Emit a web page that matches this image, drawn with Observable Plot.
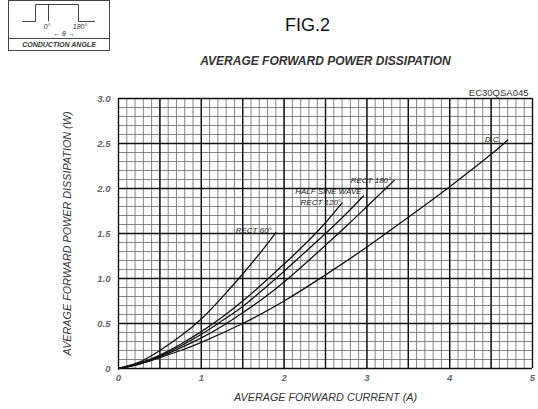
<!DOCTYPE html>
<html>
<head>
<meta charset="utf-8">
<script src="https://cdn.jsdelivr.net/npm/d3@7"></script>
<script src="https://cdn.jsdelivr.net/npm/@observablehq/plot@0.6"></script>
<style>
  html, body { margin: 0; padding: 0; background: #fff; }
  #wrap { position: relative; width: 538px; height: 409px; font-family: "Liberation Sans", Arial, sans-serif; }
  #inset { position: absolute; left: 0; top: 0; }
</style>
</head>
<body>
<div id="wrap">
  <div id="chart"></div>
  <svg id="inset" width="115" height="55" font-family="Liberation Sans, Arial, sans-serif">
    <rect x="8.5" y="0.5" width="101" height="50" fill="none" stroke="#444" stroke-width="1"/>
    <line x1="8.5" y1="38.5" x2="109.5" y2="38.5" stroke="#444" stroke-width="1"/>
    <path d="M22.5,21.5 H35.5 V4.5 H78.5 V21.5 H95" fill="none" stroke="#444" stroke-width="1"/>
    <line x1="48.5" y1="4.5" x2="48.5" y2="21.5" stroke="#444" stroke-width="1"/>
    <text x="47" y="29" font-size="7" font-style="italic" text-anchor="middle" fill="#333">0°</text>
    <text x="80" y="29" font-size="7" font-style="italic" text-anchor="middle" fill="#333">180°</text>
    <text x="64" y="36" font-size="7" font-style="italic" text-anchor="middle" fill="#333">← θ →</text>
    <text x="59" y="47" font-size="7" font-style="italic" font-weight="bold" text-anchor="middle" fill="#333">CONDUCTION ANGLE</text>
  </svg>
</div>
<script>
// ---- data ----
const rect60X  = [0, 0.25, 0.5, 0.75, 1.0, 1.25, 1.5, 1.75, 1.9];
const rect60Y  = [0, 0.07, 0.2, 0.36, 0.55, 0.79, 1.05, 1.33, 1.51];

const rect120X = [0, 0.25, 0.5, 0.75, 1.0, 1.25, 1.5, 1.75, 2.0, 2.25, 2.5, 2.7];
const rect120Y = [0, 0.06, 0.15, 0.27, 0.41, 0.57, 0.75, 0.95, 1.16, 1.38, 1.62, 1.84];

const halfSineX = [0, 0.25, 0.5, 0.75, 1.0, 1.25, 1.5, 1.75, 2.0, 2.25, 2.5, 2.75, 2.96];
const halfSineY = [0, 0.05, 0.14, 0.25, 0.38, 0.53, 0.69, 0.88, 1.08, 1.29, 1.5, 1.72, 1.92];

const rect180X = [0, 0.25, 0.5, 0.75, 1.0, 1.25, 1.5, 1.75, 2.0, 2.25, 2.5, 2.75, 3.0, 3.33];
const rect180Y = [0, 0.05, 0.13, 0.23, 0.34, 0.47, 0.62, 0.78, 0.96, 1.16, 1.37, 1.58, 1.8, 2.09];

const dcX = [0, 0.25, 0.5, 0.75, 1.0, 1.5, 2.0, 2.5, 3.0, 3.5, 4.0, 4.5, 4.7];
const dcY = [0, 0.05, 0.12, 0.2, 0.29, 0.5, 0.75, 1.04, 1.35, 1.68, 2.02, 2.38, 2.54];

const seriesNames = ["RECT 60°", "RECT 120°", "HALF SINE WAVE", "RECT 180°", "D.C."];

const xTickValues = [0, 1, 2, 3, 4, 5];
const xTickLabels = ["0", "1", "2", "3", "4", "5"];
const yTickValues = [0, 0.5, 1.0, 1.5, 2.0, 2.5, 3.0];
const yTickLabels = ["0", "0.5", "1.0", "1.5", "2.0", "2.5", "3.0"];

const xMajorGrid = [0, 0.5, 1, 1.5, 2, 2.5, 3, 3.5, 4, 4.5, 5];
const yMajorGrid = [0, 0.5, 1, 1.5, 2, 2.5, 3];
const xMinorGrid = d3.range(0, 51).map(i => i / 10);
const yMinorGrid = d3.range(0, 31).map(i => i / 10);

// ---- build tables ----
const xs = [rect60X, rect120X, halfSineX, rect180X, dcX];
const ys = [rect60Y, rect120Y, halfSineY, rect180Y, dcY];
const curves = seriesNames.flatMap((name, k) =>
  xs[k].map((x, i) => ({ series: name, x, y: ys[k][i] })));
const ends = seriesNames.map((name, k) => ({
  series: name, x: xs[k][xs[k].length - 1], y: ys[k][ys[k].length - 1]
}));
// label nudges (pixels) relative to each curve end
const labelDx = { "RECT 60°": -4, "RECT 120°": -1, "HALF SINE WAVE": -2, "RECT 180°": -3, "D.C.": -7 };
const labelDy = { "RECT 60°": -2, "RECT 120°": 0, "HALF SINE WAVE": -4, "RECT 180°": 0, "D.C.": 0 };

const ital = { fontStyle: "italic", fontFamily: "Liberation Sans, Arial, sans-serif" };

const chart = Plot.plot({
  width: 538,
  height: 409,
  marginLeft: 118,
  marginRight: 6,
  marginTop: 98,
  marginBottom: 41,
  style: { fontFamily: "Liberation Sans, Arial, sans-serif", background: "#fff" },
  x: { domain: [0, 5], axis: null },
  y: { domain: [0, 3], axis: null },
  marks: [
    Plot.ruleX(xMinorGrid, { x: d => d, stroke: "#666", strokeWidth: 0.8 }),
    Plot.ruleY(yMinorGrid, { y: d => d, stroke: "#666", strokeWidth: 0.8 }),
    Plot.ruleX(xMajorGrid, { x: d => d, stroke: "#111", strokeWidth: 1.4 }),
    Plot.ruleY(yMajorGrid, { y: d => d, stroke: "#111", strokeWidth: 1.4 }),
    Plot.line(curves, { x: "x", y: "y", z: "series", stroke: "#111", strokeWidth: 1.3, curve: "natural" }),
    ...ends.map(e => Plot.text([e], {
      x: "x", y: "y", text: "series", textAnchor: "end",
      dx: labelDx[e.series], dy: labelDy[e.series],
      fontSize: 8, fill: "#222", ...ital
    })),
    // tick labels
    Plot.text(xTickValues, { x: d => d, text: (d, i) => xTickLabels[i], frameAnchor: "bottom", dy: 12,
      fontSize: 9.5, fontWeight: "bold", fill: "#666", ...ital }),
    Plot.text(yTickValues, { y: d => d, text: (d, i) => yTickLabels[i], frameAnchor: "left", dx: -8,
      textAnchor: "end", fontSize: 9.5, fontWeight: "bold", fill: "#666", ...ital }),
    // axis titles
    Plot.text(["AVERAGE FORWARD CURRENT (A)"], { text: d => d, frameAnchor: "bottom", dy: 32,
      textAnchor: "middle", fontSize: 10.8, fill: "#333", ...ital }),
    Plot.text(["AVERAGE FORWARD POWER DISSIPATION (W)"], { text: d => d, frameAnchor: "left", dx: -51,
      textAnchor: "middle", rotate: -90, fontSize: 10.8, fill: "#333", ...ital }),
    // titles
    Plot.text(["FIG.2"], { text: d => d, frameAnchor: "top", dx: -18, dy: -80,
      textAnchor: "middle", fontSize: 18, fill: "#111", fontFamily: "Liberation Sans, Arial, sans-serif" }),
    Plot.text(["AVERAGE FORWARD POWER DISSIPATION"], { text: d => d, frameAnchor: "top", dx: 0, dy: -42,
      textAnchor: "middle", fontSize: 12, fontWeight: "bold", fill: "#333", ...ital }),
    Plot.text(["EC30QSA045"], { text: d => d, frameAnchor: "top-right", textAnchor: "end", dx: -4, dy: -9,
      fontSize: 9.5, fill: "#333", fontFamily: "Liberation Sans, Arial, sans-serif" })
  ]
});
document.getElementById("chart").appendChild(chart);
</script>
</body>
</html>
